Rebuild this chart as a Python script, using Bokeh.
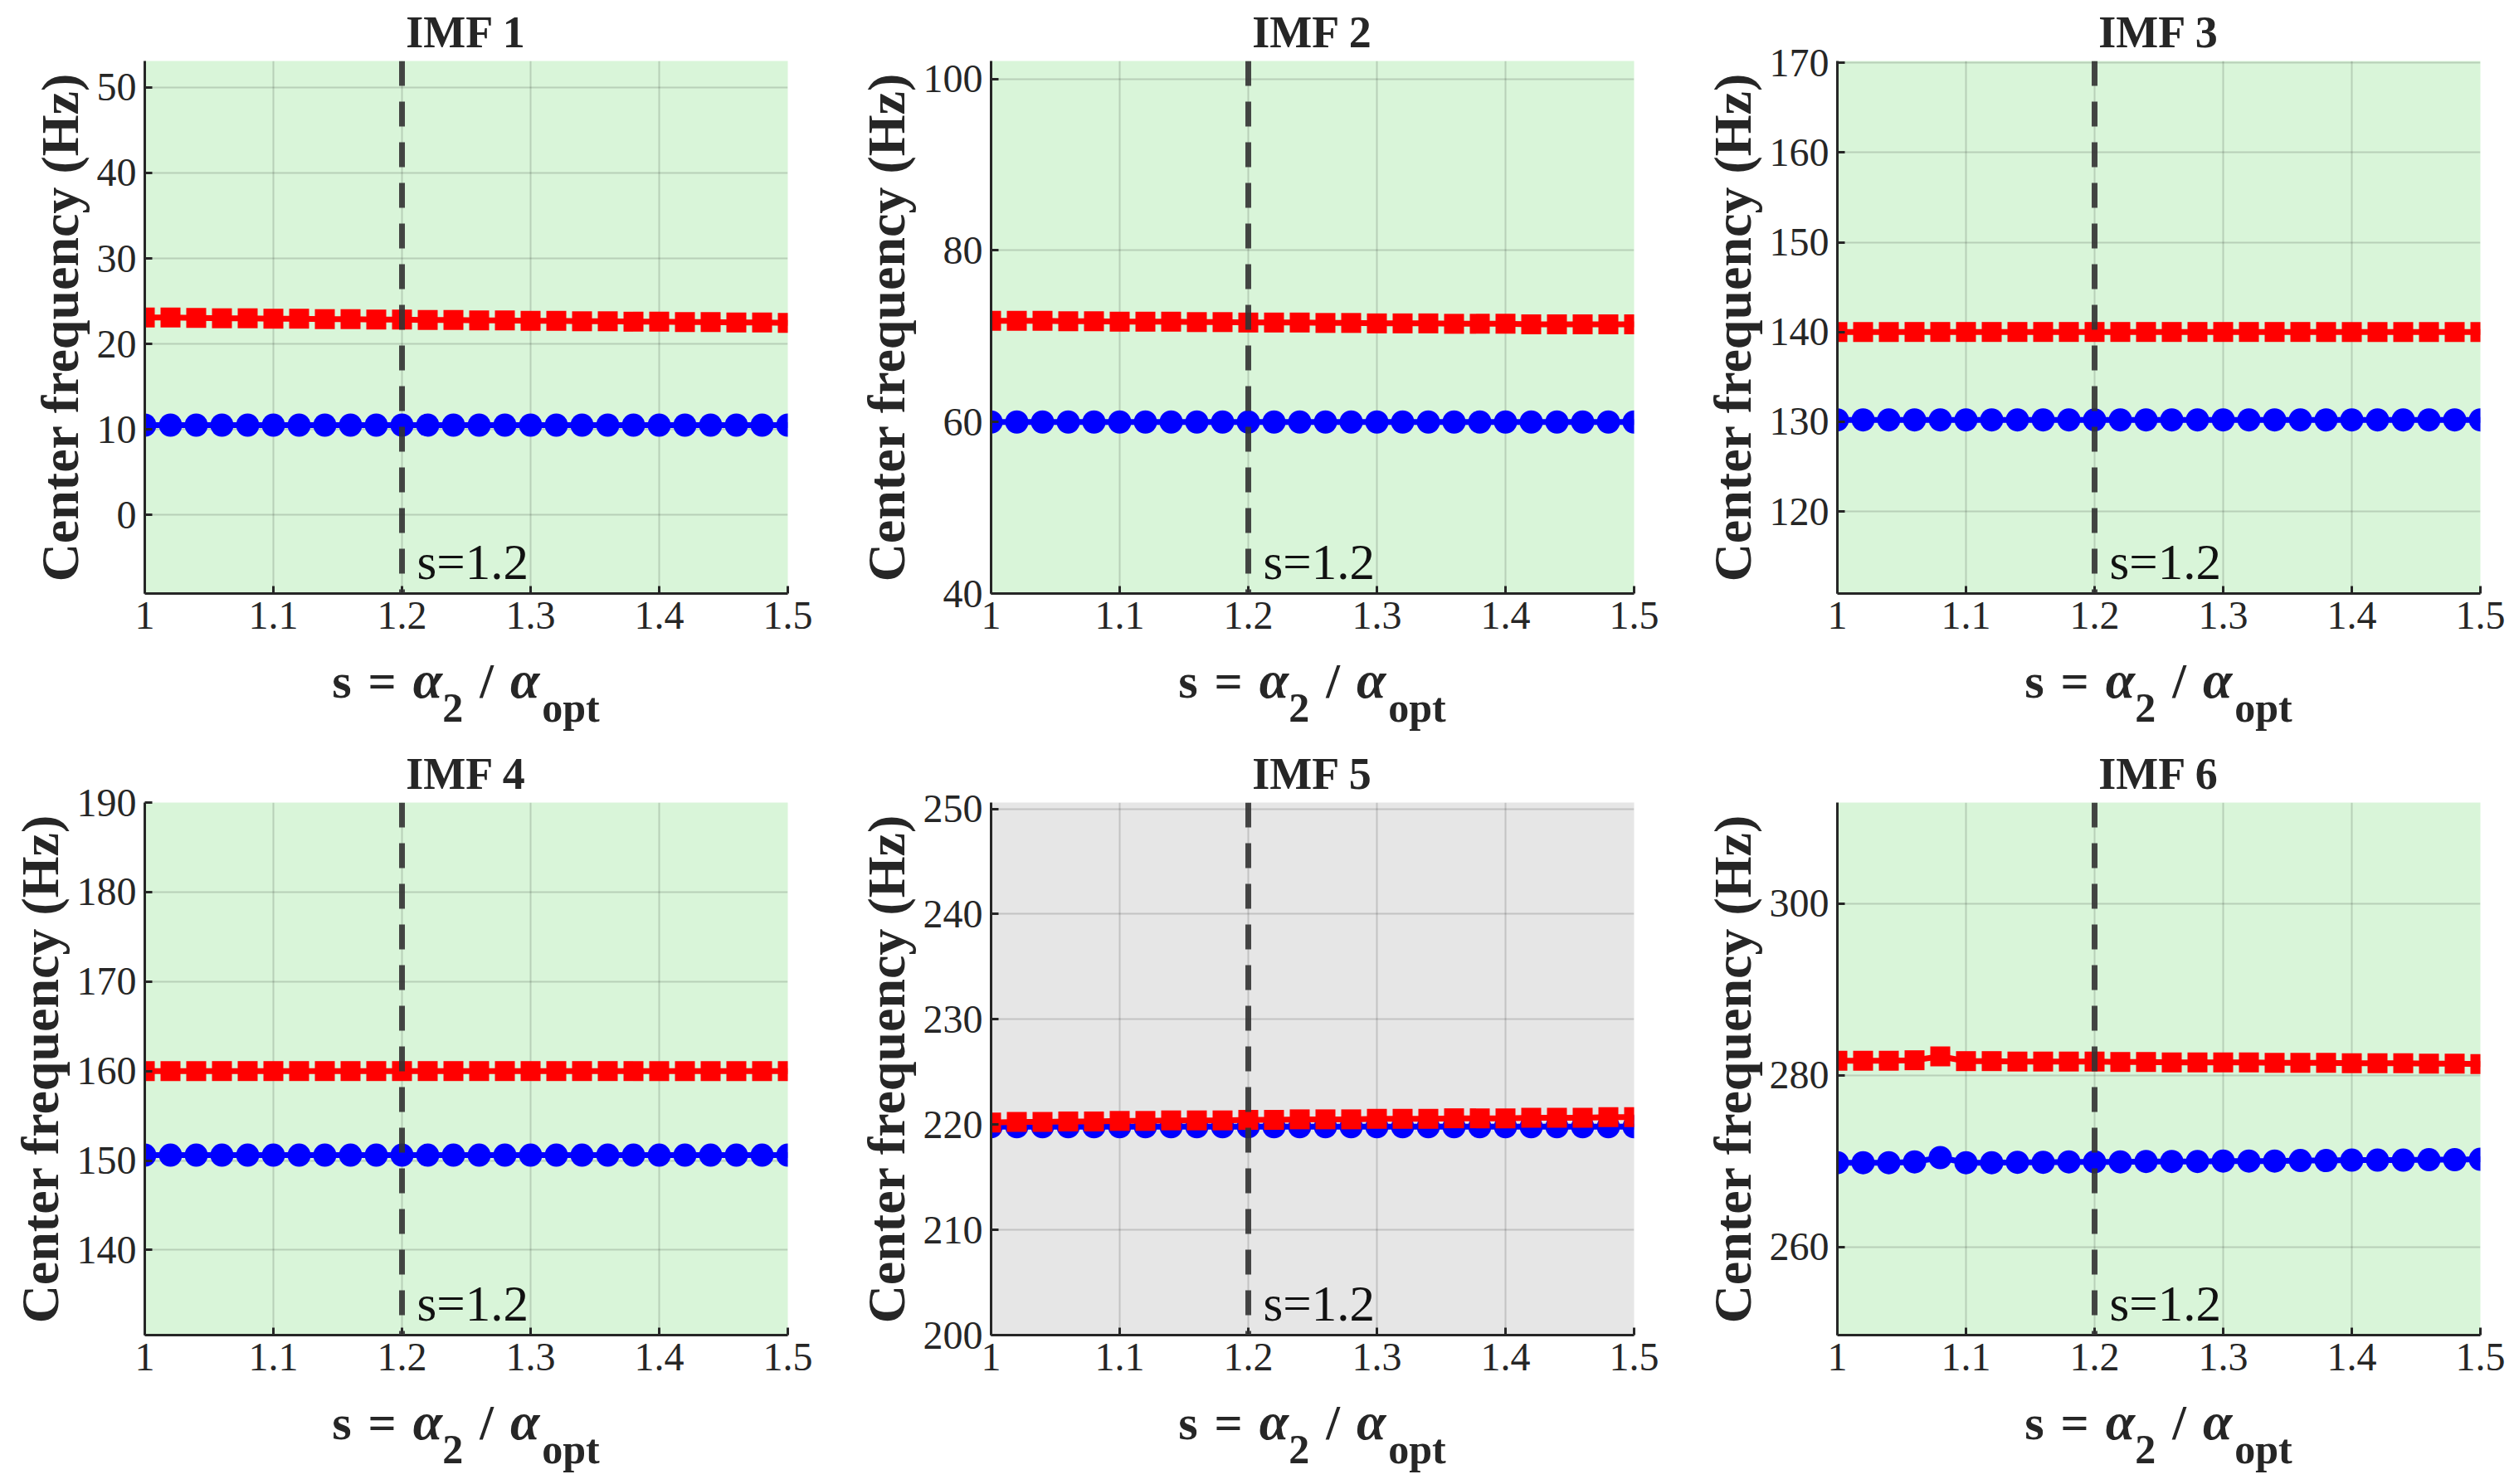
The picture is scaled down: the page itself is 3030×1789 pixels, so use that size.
from bokeh.plotting import figure
from bokeh.layouts import row, column
from bokeh.models import Span, Range1d, NumeralTickFormatter, Div
from bokeh.core.properties import value
from bokeh.embed import file_html
from bokeh.resources import INLINE

# ---------------- data ----------------
s_values = [1.00, 1.02, 1.04, 1.06, 1.08, 1.10, 1.12, 1.14, 1.16, 1.18, 1.20, 1.22, 1.24,
            1.26, 1.28, 1.30, 1.32, 1.34, 1.36, 1.38, 1.40, 1.42, 1.44, 1.46, 1.48, 1.50]

titles = ["IMF 1", "IMF 2", "IMF 3", "IMF 4", "IMF 5", "IMF 6"]

imf1_blue = [10.5, 10.5, 10.5, 10.5, 10.5, 10.5, 10.5, 10.5, 10.5, 10.5, 10.5, 10.5, 10.5,
             10.5, 10.5, 10.5, 10.5, 10.5, 10.5, 10.5, 10.5, 10.5, 10.5, 10.5, 10.5, 10.5]
imf1_red = [23.1, 23.1, 23.05, 23.0, 23.0, 22.95, 22.95, 22.9, 22.9, 22.85, 22.85, 22.8, 22.8,
            22.75, 22.75, 22.7, 22.7, 22.65, 22.65, 22.6, 22.6, 22.55, 22.55, 22.5, 22.5, 22.45]

imf2_blue = [60.0, 60.0, 60.0, 60.0, 60.0, 60.0, 60.0, 60.0, 60.0, 60.0, 60.0, 60.0, 60.0,
             60.0, 60.0, 60.0, 60.0, 60.0, 60.0, 60.0, 60.0, 60.0, 60.0, 60.0, 60.0, 60.0]
imf2_red = [71.8, 71.8, 71.8, 71.75, 71.75, 71.7, 71.7, 71.7, 71.65, 71.65, 71.6, 71.6, 71.6,
            71.55, 71.55, 71.5, 71.5, 71.5, 71.45, 71.45, 71.45, 71.4, 71.4, 71.4, 71.4, 71.4]

imf3_blue = [130.2, 130.2, 130.2, 130.2, 130.2, 130.2, 130.2, 130.2, 130.2, 130.2, 130.2, 130.2, 130.2,
             130.2, 130.2, 130.2, 130.2, 130.2, 130.2, 130.2, 130.2, 130.2, 130.2, 130.2, 130.2, 130.2]
imf3_red = [140.0, 140.0, 140.0, 140.0, 140.0, 140.0, 140.0, 140.0, 140.0, 140.0, 140.0, 140.0, 140.0,
            140.0, 140.0, 140.0, 140.0, 140.0, 140.0, 140.0, 140.0, 140.0, 140.0, 140.0, 140.0, 140.0]

imf4_blue = [150.6, 150.6, 150.6, 150.6, 150.6, 150.6, 150.6, 150.6, 150.6, 150.6, 150.6, 150.6, 150.6,
             150.6, 150.6, 150.6, 150.6, 150.6, 150.6, 150.6, 150.6, 150.6, 150.6, 150.6, 150.6, 150.6]
imf4_red = [160.0, 160.0, 160.0, 160.0, 160.0, 160.0, 160.0, 160.0, 160.0, 160.0, 160.0, 160.0, 160.0,
            160.0, 160.0, 160.0, 160.0, 160.0, 160.0, 160.0, 160.0, 160.0, 160.0, 160.0, 160.0, 160.0]

imf5_blue = [219.8, 219.8, 219.8, 219.8, 219.8, 219.8, 219.8, 219.8, 219.8, 219.8, 219.8, 219.8, 219.8,
             219.8, 219.8, 219.8, 219.8, 219.8, 219.8, 219.8, 219.8, 219.8, 219.8, 219.8, 219.8, 219.8]
imf5_red = [220.2, 220.25, 220.25, 220.3, 220.3, 220.35, 220.35, 220.4, 220.4, 220.4, 220.45, 220.45, 220.5,
            220.5, 220.5, 220.55, 220.55, 220.55, 220.6, 220.6, 220.6, 220.65, 220.65, 220.65, 220.7, 220.7]

imf6_blue = [269.8, 269.8, 269.8, 269.9, 270.4, 269.8, 269.8, 269.85, 269.85, 269.9, 269.9, 269.9, 269.95,
             269.95, 269.95, 270.0, 270.0, 270.0, 270.05, 270.05, 270.1, 270.1, 270.1, 270.15, 270.15, 270.2]
imf6_red = [281.7, 281.7, 281.7, 281.75, 282.2, 281.65, 281.65, 281.6, 281.6, 281.6, 281.6, 281.55, 281.55,
            281.5, 281.5, 281.5, 281.5, 281.45, 281.45, 281.45, 281.4, 281.4, 281.4, 281.35, 281.35, 281.3]

blue_series = [imf1_blue, imf2_blue, imf3_blue, imf4_blue, imf5_blue, imf6_blue]
red_series = [imf1_red, imf2_red, imf3_red, imf4_red, imf5_red, imf6_red]

y_limits = [(-9.2, 53.1), (40.0, 102.1), (110.85, 170.2), (130.5, 190.0), (200.0, 250.6), (249.7, 311.8)]
y_ticks = [[0, 10, 20, 30, 40, 50], [40, 60, 80, 100], [120, 130, 140, 150, 160, 170],
           [140, 150, 160, 170, 180, 190], [200, 210, 220, 230, 240, 250], [260, 280, 300]]
x_ticks = [1.0, 1.1, 1.2, 1.3, 1.4, 1.5]
s_chosen = 1.2
s_chosen_label = "s=1.2"
backgrounds = ["#d9f5d9", "#d9f5d9", "#d9f5d9", "#d9f5d9", "#e6e6e6", "#d9f5d9"]

# ---------------- styling / layout ----------------
FONT = "Liberation Serif"
TXT = "#262626"
FW, FH = 775, 642
BORDER_LEFT = [174, 166, 166]
BORDER_RIGHT = [79, 79, 30]
BORDER_TOP = [73, 70]
BORDER_BOTTOM = 70
DIV_H = [111, 111]


def make_panel(i):
    col, r = i % 3, i // 3
    y0, y1 = y_limits[i]
    p = figure(frame_width=FW, frame_height=FH,
               x_range=Range1d(1.0, 1.5), y_range=Range1d(y0, y1),
               output_backend="svg", toolbar_location=None, tools="",
               min_border_left=BORDER_LEFT[col], min_border_right=BORDER_RIGHT[col],
               min_border_top=BORDER_TOP[r], min_border_bottom=BORDER_BOTTOM,
               background_fill_color=backgrounds[i], border_fill_color="white",
               outline_line_color=None, title=titles[i])
    p.title.align = "center"
    p.title.text_font = FONT
    p.title.text_font_size = "54px"
    p.title.text_font_style = "bold"
    p.title.text_color = TXT
    p.title.standoff = 9

    for ax in (p.xaxis[0], p.yaxis[0]):
        ax.axis_line_width = 3
        ax.axis_line_color = TXT
        ax.major_tick_in = 9
        ax.major_tick_out = 0
        ax.major_tick_line_width = 3
        ax.major_tick_line_color = TXT
        ax.minor_tick_line_color = None
        ax.major_label_text_font = FONT
        ax.major_label_text_font_size = "48px"
        ax.major_label_text_color = TXT
        ax.major_label_standoff = 10
    p.xaxis.ticker = x_ticks
    p.xaxis.formatter = NumeralTickFormatter(format="0.[0]")
    p.yaxis.ticker = y_ticks[i]
    p.yaxis.axis_label = "Center frequency (Hz)"
    p.yaxis.axis_label_text_font = FONT
    p.yaxis.axis_label_text_font_size = "64px"
    p.yaxis.axis_label_text_font_style = "bold"
    p.yaxis.axis_label_text_color = TXT
    p.yaxis.axis_label_standoff = 6

    p.grid.grid_line_color = "#000000"
    p.grid.grid_line_alpha = 0.15
    p.grid.grid_line_width = 2

    p.line(s_values, blue_series[i], line_color="#0000ff", line_width=7)
    p.scatter(s_values, blue_series[i], marker="circle", size=28,
              fill_color="#0000ff", line_color=None)
    p.line(s_values, red_series[i], line_color="#ff0000", line_width=7)
    p.scatter(s_values, red_series[i], marker="square", size=24,
              fill_color="#ff0000", line_color=None)

    p.add_layout(Span(location=s_chosen, dimension="height", line_color="#333333",
                      line_width=7, line_dash="30 19", line_alpha=0.9))
    # "s=1.2" note just right of the line, near the frame bottom
    tx = s_chosen + 18.0 / FW * (1.5 - 1.0)
    ty = y0 + 38.0 / FH * (y1 - y0)
    p.text(x=[tx], y=[ty], text=[s_chosen_label], text_font=value(FONT),
           text_font_size=value("61px"), text_color="#111111",
           text_baseline="alphabetic", text_align="left")
    return p


def make_xlabel(i):
    col, r = i % 3, i // 3
    w = BORDER_LEFT[col] + FW + BORDER_RIGHT[col]
    h = DIV_H[r]
    sub = "font-size:50px; position:relative; top:29px;"
    html = (
        f'<div style="position:relative; width:{w}px; height:{h}px; overflow:visible;">'
        f'<div style="position:absolute; left:{BORDER_LEFT[col]}px; top:5px; width:{FW}px; '
        f'text-align:center; white-space:nowrap; font-family:\'{FONT}\'; font-weight:bold; '
        f'font-size:60px; line-height:60px; color:{TXT}; word-spacing:5px;">'
        f's = <i style="font-size:64px;">&alpha;</i><span style="{sub}">2</span> / '
        f'<i style="font-size:64px;">&alpha;</i><span style="{sub} margin-left:3px;">opt</span>'
        f'</div></div>'
    )
    return Div(text=html, width=w, height=h, margin=0)


panels = [make_panel(i) for i in range(6)]
labels = [make_xlabel(i) for i in range(6)]
layout = column(row(*panels[:3]), row(*labels[:3]),
                row(*panels[3:]), row(*labels[3:]))

open("out.html", "w").write(file_html(layout, INLINE))
